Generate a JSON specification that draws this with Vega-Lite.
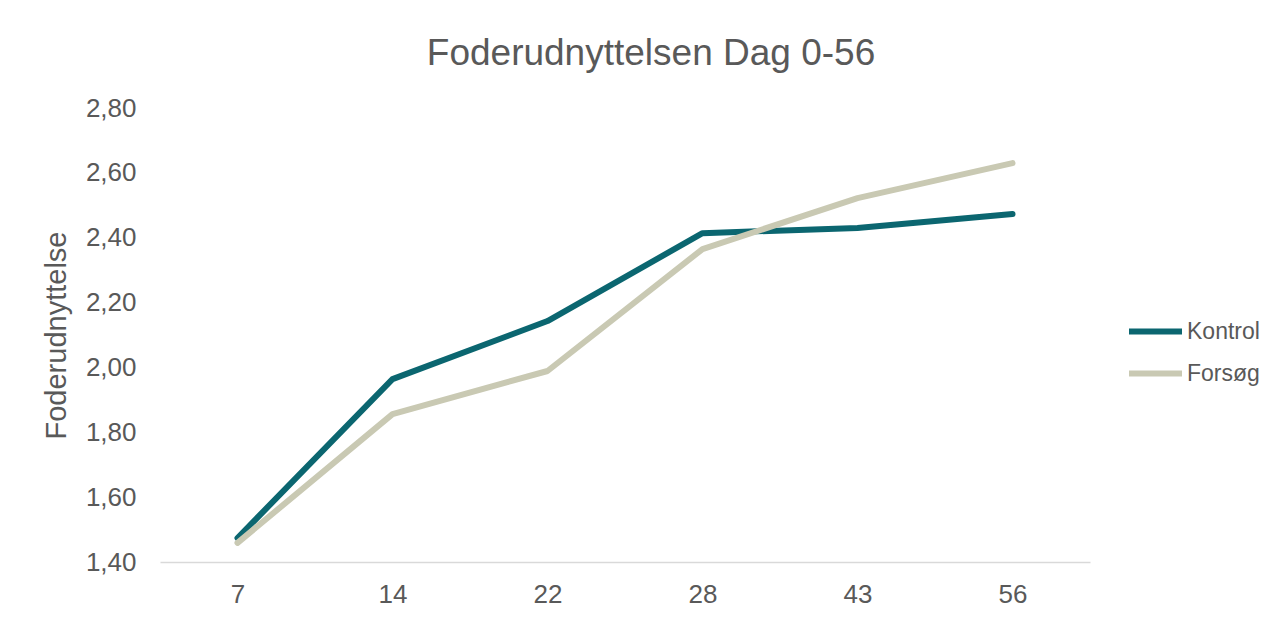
{
  "$schema": "https://vega.github.io/schema/vega-lite/v6.json",
  "autosize": {"type": "none"},
  "width": 930,
  "height": 454,
  "padding": {"left": 160, "top": 108, "right": 189, "bottom": 57},
  "background": "white",
  "title": {
    "text": "Foderudnyttelsen Dag 0-56",
    "font": "Liberation Sans",
    "fontSize": 37,
    "fontWeight": "normal",
    "color": "#595959",
    "anchor": "middle",
    "dx": 26,
    "offset": 22
  },
  "data": {
    "values": [
      {"dag": "7", "gruppe": "Kontrol", "v": 1.474},
      {"dag": "14", "gruppe": "Kontrol", "v": 1.964},
      {"dag": "22", "gruppe": "Kontrol", "v": 2.143},
      {"dag": "28", "gruppe": "Kontrol", "v": 2.414},
      {"dag": "43", "gruppe": "Kontrol", "v": 2.43},
      {"dag": "56", "gruppe": "Kontrol", "v": 2.473},
      {"dag": "7", "gruppe": "Forsøg", "v": 1.459},
      {"dag": "14", "gruppe": "Forsøg", "v": 1.856},
      {"dag": "22", "gruppe": "Forsøg", "v": 1.989},
      {"dag": "28", "gruppe": "Forsøg", "v": 2.365},
      {"dag": "43", "gruppe": "Forsøg", "v": 2.522},
      {"dag": "56", "gruppe": "Forsøg", "v": 2.63}
    ]
  },
  "mark": {"type": "line", "strokeWidth": 6, "strokeCap": "round", "strokeJoin": "round"},
  "encoding": {
    "x": {
      "field": "dag",
      "type": "ordinal",
      "sort": ["7", "14", "22", "28", "43", "56"],
      "scale": {"type": "point", "padding": 0.5},
      "axis": {
        "title": null,
        "labelAngle": 0,
        "labelFont": "Liberation Sans",
        "labelFontSize": 26,
        "labelColor": "#595959",
        "labelPadding": 19,
        "ticks": false,
        "domainColor": "#d9d9d9",
        "domainWidth": 1.5,
        "grid": false
      }
    },
    "y": {
      "field": "v",
      "type": "quantitative",
      "scale": {"domain": [1.4, 2.8], "nice": false, "zero": false},
      "axis": {
        "title": "Foderudnyttelse",
        "titleFont": "Liberation Sans",
        "titleFontSize": 29,
        "titleFontWeight": "normal",
        "titleColor": "#595959",
        "titlePadding": 14,
        "values": [1.4, 1.6, 1.8, 2.0, 2.2, 2.4, 2.6, 2.8],
        "labelExpr": "replace(format(datum.value, '.2f'), '.', ',')",
        "labelFont": "Liberation Sans",
        "labelFontSize": 26,
        "labelColor": "#595959",
        "labelPadding": 24,
        "ticks": false,
        "domain": false,
        "grid": false
      }
    },
    "color": {
      "field": "gruppe",
      "type": "nominal",
      "sort": ["Kontrol", "Forsøg"],
      "scale": {"domain": ["Kontrol", "Forsøg"], "range": ["#0b6670", "#c9c9b3"]},
      "legend": {
        "title": null,
        "orient": "none",
        "legendX": 966,
        "legendY": 194,
        "symbolType": "stroke",
        "symbolSize": 2809,
        "symbolStrokeWidth": 6,
        "labelFont": "Liberation Sans",
        "labelFontSize": 23,
        "labelColor": "#595959",
        "labelOffset": 2,
        "rowPadding": -9
      }
    }
  },
  "config": {"view": {"stroke": null}}
}
